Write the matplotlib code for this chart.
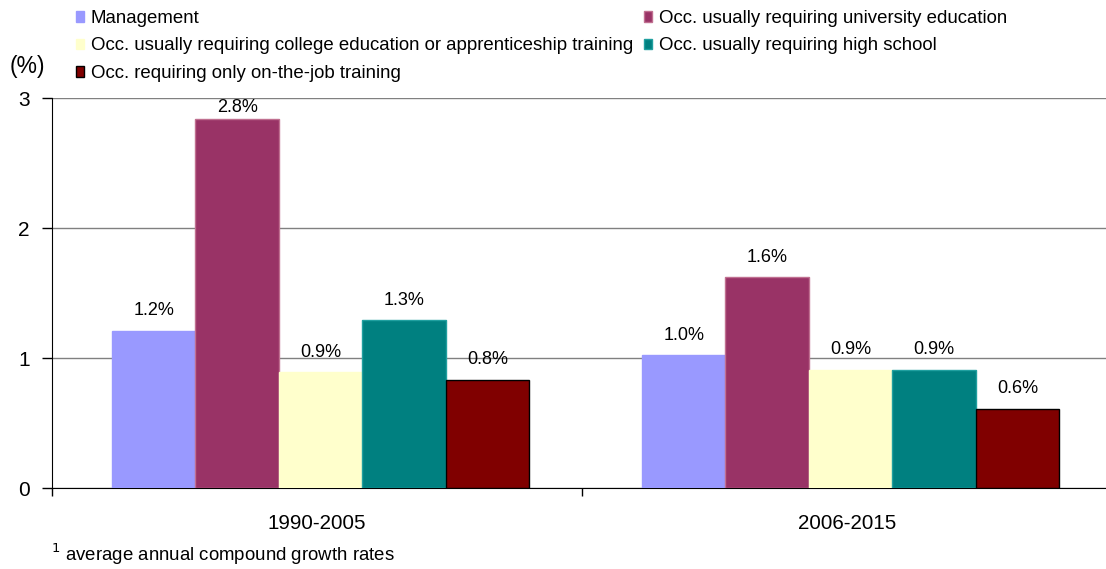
import matplotlib
matplotlib.use("Agg")
import matplotlib.pyplot as plt
import numpy as np

plt.rcParams['font.family'] = ['Liberation Sans', 'DejaVu Sans']

periods = ["1990-2005", "2006-2015"]
series_names = [
    "Management",
    "Occ. usually requiring university education",
    "Occ. usually requiring college education or apprenticeship training",
    "Occ. usually requiring high school",
    "Occ. requiring only on-the-job training",
]
management = [1.21, 1.02]
university = [2.84, 1.62]
college = [0.89, 0.91]
high_school = [1.29, 0.91]
on_the_job = [0.83, 0.61]
colors = ["#9999FF", "#993366", "#FFFFCC", "#008080", "#800000"]
edges = ["#9999FF", "#C07090", "#FFFFCC", "#20A0A0", "#000000"]

values = [management, university, college, high_school, on_the_job]

W, H = 1106, 569
fig = plt.figure(figsize=(W / 100, H / 100), dpi=100)
ax = fig.add_axes([52 / W, 1 - 488 / H, 1060 / W, 390 / H])

x = np.arange(len(periods))
n = len(values)
group_w = 0.787
group_shift = 0.0066
bw = group_w / n
handles = []
for i, (vals, c, ec) in enumerate(zip(values, colors, edges)):
    pos = x + group_shift - group_w / 2 + bw * (i + 0.5)
    bars = ax.bar(pos, vals, width=bw, color=c, edgecolor=ec, linewidth=1.0,
                  zorder=3, label=series_names[i])
    handles.append(bars)
    for p, v in zip(pos, vals):
        ly = min(v + 0.155, 3 - 0.075)
        ax.text(p, ly, f"{v:.1f}%", ha="center", va="center", fontsize=13,
                color="#000000", zorder=4)

ax.set_xlim(-0.5, 1.5)
ax.set_ylim(0, 3)
ax.set_yticks([0, 1, 2, 3])
ax.set_yticklabels(["0", "1", "2", "3"], fontsize=15)
ax.yaxis.grid(True, color="#808080", linewidth=1.0, zorder=0)
ax.set_axisbelow(True)

# category ticks on the group boundaries, labels centred under each group
ax.set_xticks([-0.5, 0.5, 1.5])
ax.set_xticklabels([])
ax.set_xticks(x, minor=True)
ax.set_xticklabels(periods, minor=True, fontsize=14.8)
ax.tick_params(axis="x", which="minor", length=0, pad=19)
ax.tick_params(axis="x", which="major", length=6, width=1, direction="out")
ax.tick_params(axis="y", length=7, width=1, direction="out", pad=9)

for s in ["top", "right"]:
    ax.spines[s].set_visible(False)
ax.spines["left"].set_color("#000000")
ax.spines["bottom"].set_color("#000000")

fig.text(10 / W, 1 - 66 / H, "(%)", fontsize=16.5, va="center", ha="left")
fig.text(51 / W, 1 - 554 / H, r"$^{1}$ average annual compound growth rates",
         fontsize=13.4, va="center", ha="left")

order = [0, 2, 4, 1, 3]
leg = fig.legend([handles[i] for i in order], [series_names[i] for i in order],
                 ncol=2, loc="upper left", bbox_to_anchor=(76 / W, 1 - 10 / H),
                 frameon=False, fontsize=13.4, handlelength=0.45, handleheight=0.5,
                 handletextpad=0.35, columnspacing=0.58, labelspacing=0.56,
                 borderaxespad=0, borderpad=0)

fig.savefig("out.png", dpi=100)
